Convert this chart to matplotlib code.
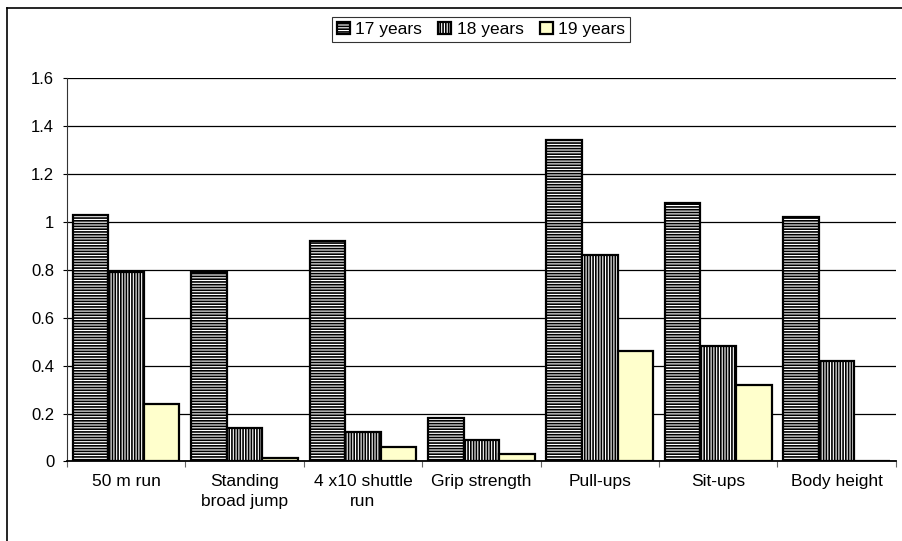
import numpy as np
import matplotlib
matplotlib.use("Agg")
import matplotlib.pyplot as plt
from matplotlib.lines import Line2D

# ── data ─────────────────────────────────────────────────────────────────────
categories = ["50 m run", "Standing\nbroad jump", "4 x10 shuttle\nrun", "Grip strength",
              "Pull-ups", "Sit-ups", "Body height"]
y17 = [1.03, 0.79, 0.92, 0.18, 1.34, 1.08, 1.02]
y18 = [0.79, 0.14, 0.125, 0.09, 0.86, 0.48, 0.42]
y19 = [0.24, 0.015, 0.06, 0.03, 0.46, 0.32, 0.0]
series_names = ["17 years", "18 years", "19 years"]
yticks = [0, 0.2, 0.4, 0.6, 0.8, 1, 1.2, 1.4, 1.6]

plt.rcParams["font.family"] = ["Liberation Sans", "DejaVu Sans"]
plt.rcParams["hatch.linewidth"] = 1.2

fig = plt.figure(figsize=(9.03, 5.41), dpi=100, facecolor="white")
ax = fig.add_axes([0.0739, 0.147, 0.9183, 0.7088])

x = np.arange(len(categories))
w = 0.3
styles = [
    dict(facecolor="white", hatch="------"),
    dict(facecolor="white", hatch="||||||"),
    dict(facecolor="#ffffcc", hatch=None),
]
for i, (vals, name, st) in enumerate(zip([y17, y18, y19], series_names, styles)):
    ax.bar(x + (i - 1) * w, vals, w, label=name, edgecolor="black", linewidth=1.6,
           zorder=3, **st)

ax.set_xlim(-0.5, len(categories) - 0.5)
ax.set_ylim(0, 1.6)
ax.set_yticks(yticks)
ax.set_yticklabels([f"{v:g}" for v in yticks], fontsize=12)
ax.yaxis.grid(True, color="black", lw=0.9, zorder=0)
ax.set_axisbelow(True)

# group boundary ticks + centered labels
ax.set_xticks(np.arange(len(categories) + 1) - 0.5)
ax.set_xticklabels([])
ax.set_xticks(x, minor=True)
ax.set_xticklabels(categories, minor=True, fontsize=12.5, ha="center", va="top",
                   linespacing=1.45)
ax.tick_params(axis="x", which="minor", length=0, pad=9)
ax.tick_params(axis="x", which="major", length=4, direction="out", color="#666666")
ax.tick_params(axis="y", length=3, direction="out", pad=6)

for s in ["top", "right"]:
    ax.spines[s].set_visible(False)
ax.spines["left"].set_color("#333333")
ax.spines["bottom"].set_color("black")
ax.spines["bottom"].set_linewidth(1.3)

leg = fig.legend(loc="center", bbox_to_anchor=(0.5327, 0.9455), ncol=3, fontsize=12.5,
                 frameon=True, fancybox=False, edgecolor="black", handlelength=0.75,
                 handleheight=0.75, handletextpad=0.3, columnspacing=0.95,
                 borderpad=0.3)
leg.get_frame().set_linewidth(0.8)

# chart area border (top and left edges visible)
fig.add_artist(Line2D([7 / 903, 1.0], [1 - 8 / 541, 1 - 8 / 541], transform=fig.transFigure,
                      color="black", lw=1.2))
fig.add_artist(Line2D([7 / 903, 7 / 903], [0.0, 1 - 8 / 541], transform=fig.transFigure,
                      color="black", lw=1.2))

fig.savefig("out.png", dpi=100, facecolor="white")
